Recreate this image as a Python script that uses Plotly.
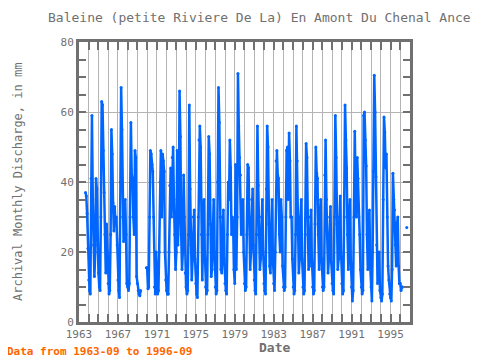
import pandas as pd
import plotly.graph_objects as go

# Monthly discharge (mm), Jan..Dec for each year; None = no data
y1963 = [None, None, None, None, None, None, None, None, 37, 36, 31, 21]
y1964 = [12, 9, 8, 41, 59, 35, 22, 13, 20, 41, 38, 22]
y1965 = [14, 10, 9, 30, 63, 62, 49, 37, 25, 14, 28, 20]
y1966 = [11, 8, 9, 25, 55, 48, 34, 26, 33, 28, 30, 22]
y1967 = [12, 9, 7, 40, 67, 55, 30, 23, 28, 35, 25, 11]
y1968 = [10, 9, 11, 30, 57, 42, 41, 30, 25, 49, 47, 13]
y1969 = [11, 9, 8, 7.5, 9, None, None, None, None, None, None, 15.5]
y1970 = [15.5, 9.5, 10, 30, 49, 48, 45, 43, 30, 10, 8, 20]
y1971 = [10, 8, 9, 20, 40, 49, 30, 48, 46, 43, 20, 12]
y1972 = [9, 8, 8, 20, 39, 44, 30, 47, 50, 35, 25, 15]
y1973 = [20, 49, 22, 30, 66, 53, 25, 15, 20, 42, 30, 14]
y1974 = [10, 8, 9, 25, 62, 38, 22, 12, 18, 30, 32, 18]
y1975 = [11, 8, 7, 30, 52, 56, 50, 25, 12, 25, 35, 20]
y1976 = [10, 8, 9, 25, 53, 48, 28, 13, 15, 28, 35, 20]
y1977 = [10, 8, 9, 40, 67, 57, 30, 15, 14, 30, 32, 18]
y1978 = [11, 9, 8, 25, 40, 35, 52, 44, 25, 30, 28, 15]
y1979 = [11, 45, 15, 30, 71, 56, 47, 42, 25, 30, 35, 20]
y1980 = [11, 9, 10, 25, 45, 44, 30, 15, 20, 35, 38, 22]
y1981 = [12, 9, 8, 25, 56, 39, 25, 15, 18, 30, 35, 20]
y1982 = [11, 9, 8, 38, 56, 50, 28, 16, 14, 28, 35, 18]
y1983 = [11, 9, 20, 46, 49, 42, 41, 25, 20, 35, 30, 16]
y1984 = [10, 9, 10, 30, 49, 50, 35, 54, 46, 30, 30, 18]
y1985 = [10, 8, 9, 25, 56, 46, 28, 14, 18, 30, 35, 18]
y1986 = [10, 8, 9, 25, 51, 47, 30, 15, 16, 30, 32, 18]
y1987 = [10, 8, 9, 28, 50, 42.5, 41, 25, 15, 30, 35, 18]
y1988 = [10, 9, 10, 42, 52, 35, 25, 14, 18, 30, 33, 17]
y1989 = [11, 9, 8, 30, 59, 47, 28, 15, 18, 30, 36, 20]
y1990 = [11, 8, 9, 30, 62, 52, 44, 25, 15, 30, 35, 18]
y1991 = [10, 6, 9, 30, 54.5, 38.5, 30, 47, 41, 30, 25, 15]
y1992 = [10, 8, 9, 59, 60, 52, 44.6, 25, 15, 28, 32, 16]
y1993 = [10, 6, 20, 43, 70.5, 60, 41.5, 22, 11, 14, 20, 9]
y1994 = [7, 6, 8, 35, 58.6, 54.3, 44, 48, 30, 16, 12, 8]
y1995 = [7, 6, 15, 42.5, 35, 32, 22, 16, 28, 30, 16, 11]
y1996 = [11, 9, 10, 10, None, None, None, None, 27, None, None, None]

years = list(range(1963, 1997))
by_year = [y1963, y1964, y1965, y1966, y1967, y1968, y1969, y1970, y1971, y1972,
           y1973, y1974, y1975, y1976, y1977, y1978, y1979, y1980, y1981, y1982,
           y1983, y1984, y1985, y1986, y1987, y1988, y1989, y1990, y1991, y1992,
           y1993, y1994, y1995, y1996]

dates, vals = [], []
for yr, row in zip(years, by_year):
    for m, v in enumerate(row, start=1):
        d = pd.Timestamp(year=yr, month=m, day=1)
        if d < pd.Timestamp("1963-09-01") or d > pd.Timestamp("1996-09-01"):
            continue
        dates.append(d)
        vals.append(v)

tick_years = list(range(1963, 1997, 4))

GREY = "#707070"
FONT = "DejaVu Sans Mono"

# page body adds an 8px offset; size the figure to compensate
OFF = 8
W, H = 480 - OFF, 360 - OFF
L, T = 79 - OFF, 42 - OFF
R = W - (410 - OFF)
B = H - (322 - OFF)

fig = go.Figure()
fig.add_trace(go.Scatter(
    x=dates, y=vals, mode="lines+markers",
    line=dict(color="#0066ff", width=2.5),
    marker=dict(color="#0066ff", size=3),
    connectgaps=False, showlegend=False,
))

fig.update_layout(
    width=W, height=H, autosize=False,
    margin=dict(l=L, r=R, t=T, b=B, pad=0),
    paper_bgcolor="white", plot_bgcolor="white",
    font=dict(family=FONT, color=GREY, size=11),
)
fig.update_xaxes(
    type="date", range=["1963-01-01", "1997-01-01"],
    tickvals=[f"{y}-01-01" for y in tick_years],
    ticktext=[str(y) for y in tick_years],
    ticks="inside", ticklen=8, tickwidth=2, tickcolor=GREY,
    showline=True, linewidth=3, linecolor=GREY, mirror="ticks",
    showgrid=True, gridcolor="#b4b4b4", gridwidth=1,
    minor=dict(dtick="M12", tick0="1963-01-01", ticks="inside", ticklen=8,
               tickwidth=2, tickcolor=GREY, showgrid=True, gridcolor="#b4b4b4", gridwidth=1),
    tickfont=dict(family=FONT, size=11, color=GREY),
    zeroline=False,
)
fig.update_yaxes(
    range=[0, 80], dtick=20, tick0=0,
    ticks="inside", ticklen=7, tickwidth=2, tickcolor=GREY,
    showline=True, linewidth=3, linecolor=GREY, mirror="ticks",
    showgrid=True, gridcolor="#b4b4b4", gridwidth=1,
    minor=dict(dtick=5, ticks="inside", ticklen=7, tickwidth=2, tickcolor=GREY, showgrid=False),
    tickfont=dict(family=FONT, size=11, color=GREY),
    zeroline=False,
)

pw = W - L - R
ph = H - T - B
def px(x): return (x - OFF - L) / pw
def py(y): return (H - B - (y - OFF)) / ph

fig.add_annotation(text="Baleine (petite Riviere De La) En Amont Du Chenal Ancel",
                   xref="paper", yref="paper", x=px(46), y=py(17),
                   xanchor="left", yanchor="middle", showarrow=False,
                   font=dict(family=FONT, size=13, color=GREY))
fig.add_annotation(text="Archival Monthly Discharge, in mm",
                   xref="paper", yref="paper", x=px(18), y=0.5, textangle=-90,
                   xanchor="center", yanchor="middle", showarrow=False,
                   font=dict(family=FONT, size=12, color=GREY))
fig.add_annotation(text="<b>Date</b>",
                   xref="paper", yref="paper", x=px(274), y=py(347),
                   xanchor="center", yanchor="middle", showarrow=False,
                   font=dict(family=FONT, size=13, color=GREY))
fig.add_annotation(text="<b>Data from 1963-09 to 1996-09</b>",
                   xref="paper", yref="paper", x=px(5), y=py(351),
                   xanchor="left", yanchor="middle", showarrow=False,
                   font=dict(family=FONT, size=11, color="#ff6600"))

fig.write_html("out.html")
